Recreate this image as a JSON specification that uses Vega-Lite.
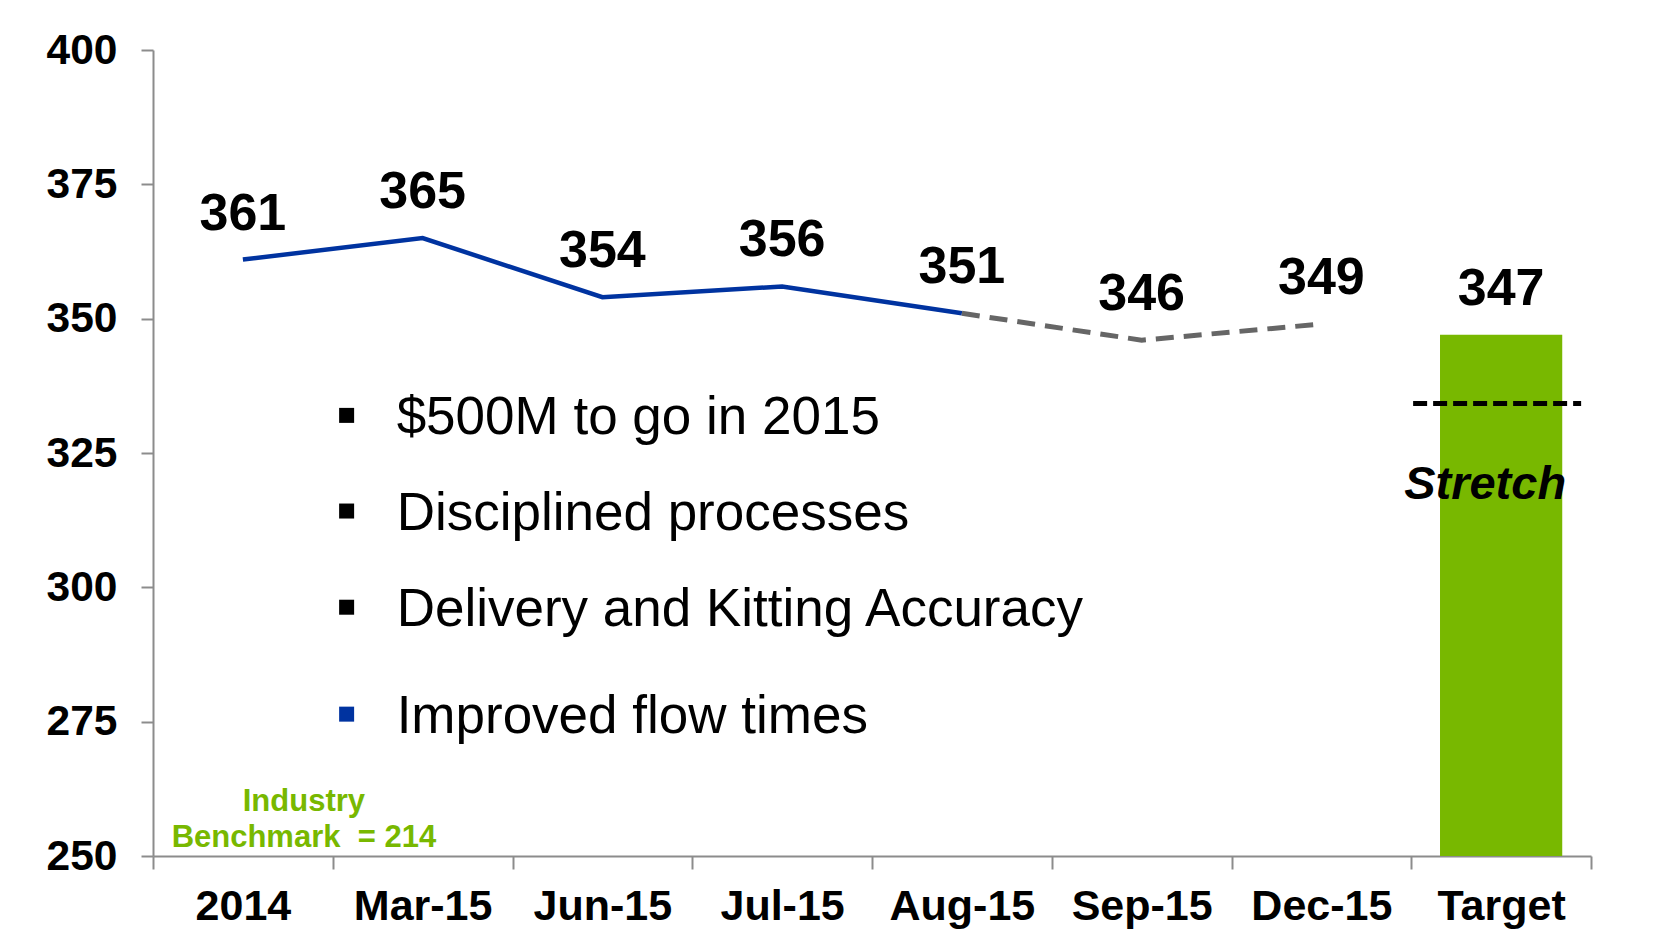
{
  "$schema": "https://vega.github.io/schema/vega-lite/v6.json",
  "width": 1438,
  "height": 806,
  "autosize": {"type": "none"},
  "padding": {"left": 153, "top": 50, "right": 84, "bottom": 75},
  "background": "white",
  "config": {"view": {"stroke": null}, "font": "Liberation Sans"},
  "datasets": {
    "summary": [
      {"period": "2014", "value": 361},
      {"period": "Mar-15", "value": 365},
      {"period": "Jun-15", "value": 354},
      {"period": "Jul-15", "value": 356},
      {"period": "Aug-15", "value": 351},
      {"period": "Sep-15", "value": 346},
      {"period": "Dec-15", "value": 349},
      {"period": "Target", "value": 347}
    ],
    "series": [
      {"period": "2014", "value": 361, "kind": "Actual"},
      {"period": "Mar-15", "value": 365, "kind": "Actual"},
      {"period": "Jun-15", "value": 354, "kind": "Actual"},
      {"period": "Jul-15", "value": 356, "kind": "Actual"},
      {"period": "Aug-15", "value": 351, "kind": "Actual"},
      {"period": "Aug-15", "value": 351, "kind": "Forecast"},
      {"period": "Sep-15", "value": 346, "kind": "Forecast"},
      {"period": "Dec-15", "value": 349, "kind": "Forecast"}
    ],
    "bullets": [
      {"text": "$500M to go in 2015", "y": 332, "group": "standard"},
      {"text": "Disciplined processes", "y": 314.2, "group": "standard"},
      {"text": "Delivery and Kitting Accuracy", "y": 296.3, "group": "standard"},
      {"text": "Improved flow times", "y": 276.4, "group": "highlight"}
    ],
    "benchmark": [
      {"text": "Industry", "y": 260},
      {"text": "Benchmark \u00a0= 214", "y": 253.3}
    ],
    "stretch": [
      {"period": "Target", "value": 334.2, "text": "Stretch", "textY": 319}
    ]
  },
  "layer": [
    {
      "data": {"name": "summary"},
      "transform": [{"filter": "datum.period === 'Target'"}],
      "mark": {"type": "bar", "color": "#78B800", "width": {"band": 0.68}},
      "encoding": {
        "x": {
          "field": "period",
          "type": "nominal",
          "title": null,
          "scale": {
            "domain": ["2014", "Mar-15", "Jun-15", "Jul-15", "Aug-15", "Sep-15", "Dec-15", "Target"],
            "paddingInner": 0,
            "paddingOuter": 0
          },
          "axis": {
            "labelAngle": 0,
            "labelFontSize": 43,
            "labelFontWeight": "bold",
            "labelColor": "black",
            "labelFont": "Liberation Sans",
            "labelPadding": 16,
            "tickBand": "extent",
            "tickSize": 13,
            "tickWidth": 2,
            "tickColor": "#8c8c8c",
            "domainColor": "#8c8c8c",
            "domainWidth": 2,
            "grid": false
          }
        },
        "y": {
          "field": "value",
          "type": "quantitative",
          "title": null,
          "scale": {"domain": [250, 400], "zero": false, "nice": false},
          "axis": {
            "values": [250, 275, 300, 325, 350, 375, 400],
            "labelFontSize": 42.5,
            "labelFontWeight": "bold",
            "labelColor": "black",
            "labelFont": "Liberation Sans",
            "labelPadding": 24,
            "tickSize": 12,
            "tickWidth": 2,
            "tickColor": "#8c8c8c",
            "domainColor": "#8c8c8c",
            "domainWidth": 2,
            "grid": false
          }
        },
        "y2": {"datum": 250}
      }
    },
    {
      "data": {"name": "series"},
      "transform": [{"filter": "datum.kind === 'Actual'"}],
      "mark": {"type": "line", "color": "#0033A0", "strokeWidth": 4.5},
      "encoding": {
        "x": {"field": "period", "type": "nominal"},
        "y": {"field": "value", "type": "quantitative"}
      }
    },
    {
      "data": {"name": "series"},
      "transform": [{"filter": "datum.kind === 'Forecast'"}],
      "mark": {"type": "line", "color": "#666666", "strokeWidth": 5, "strokeDash": [18, 10]},
      "encoding": {
        "x": {"field": "period", "type": "nominal"},
        "y": {"field": "value", "type": "quantitative"}
      }
    },
    {
      "data": {"name": "summary"},
      "mark": {"type": "text", "fontSize": 52, "fontWeight": "bold", "color": "black", "dy": -46, "baseline": "middle"},
      "encoding": {
        "x": {"field": "period", "type": "nominal"},
        "y": {"field": "value", "type": "quantitative"},
        "text": {"field": "value", "type": "quantitative"}
      }
    },
    {
      "data": {"name": "stretch"},
      "mark": {"type": "rule", "color": "black", "strokeWidth": 5, "strokeDash": [14, 6], "xOffset": -88, "x2Offset": 80},
      "encoding": {
        "x": {"field": "period", "type": "nominal"},
        "x2": {"field": "period"},
        "y": {"field": "value", "type": "quantitative"}
      }
    },
    {
      "data": {"name": "stretch"},
      "mark": {"type": "text", "fontSize": 47, "fontWeight": "bold", "fontStyle": "italic", "color": "black", "dx": -16, "baseline": "middle"},
      "encoding": {
        "x": {"field": "period", "type": "nominal"},
        "y": {"field": "textY", "type": "quantitative"},
        "text": {"field": "text"}
      }
    },
    {
      "data": {"name": "bullets"},
      "mark": {"type": "point", "shape": "square", "filled": true, "size": 225, "opacity": 1, "xOffset": -76},
      "encoding": {
        "x": {"datum": "Mar-15", "type": "nominal"},
        "y": {"field": "y", "type": "quantitative"},
        "color": {
          "field": "group",
          "type": "nominal",
          "scale": {"domain": ["standard", "highlight"], "range": ["#000000", "#0033A0"]},
          "legend": null
        }
      }
    },
    {
      "data": {"name": "bullets"},
      "mark": {"type": "text", "fontSize": 53, "color": "black", "align": "left", "baseline": "middle", "dx": -26, "dy": 3},
      "encoding": {
        "x": {"datum": "Mar-15", "type": "nominal"},
        "y": {"field": "y", "type": "quantitative"},
        "text": {"field": "text"}
      }
    },
    {
      "data": {"name": "benchmark"},
      "mark": {"type": "text", "fontSize": 31, "fontWeight": "bold", "color": "#78B800", "align": "center", "baseline": "middle", "dx": 61},
      "encoding": {
        "x": {"datum": "2014", "type": "nominal"},
        "y": {"field": "y", "type": "quantitative"},
        "text": {"field": "text"}
      }
    }
  ]
}
